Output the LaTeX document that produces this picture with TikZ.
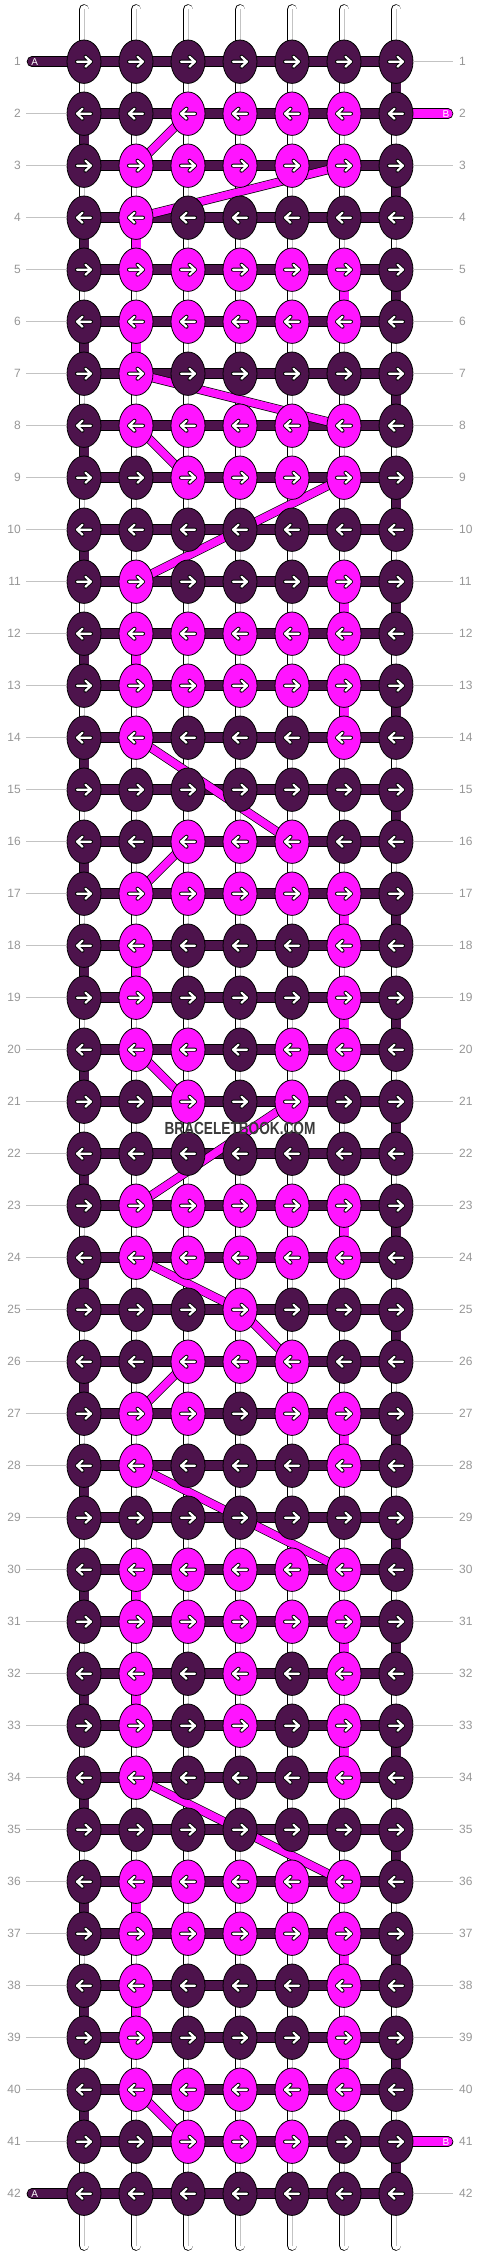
\documentclass[tikz,border=0pt]{standalone}
\usepackage{fontspec}
\setmainfont{Liberation Sans}
\usepackage{graphicx}
\usetikzlibrary{shapes.geometric}
\definecolor{dk}{RGB}{77,19,76}
\definecolor{mg}{RGB}{255,20,255}
\definecolor{labgray}{RGB}{150,150,150}
\definecolor{guidegray}{RGB}{195,195,195}
\definecolor{wmgray}{RGB}{58,58,58}
\pgfdeclarelayer{strings}
\pgfdeclarelayer{links}
\pgfsetlayers{strings,links,main}
\tikzset{
 kn/.style={ellipse, draw=black, line width=0.8pt, minimum width=34pt, minimum height=43.4pt, inner sep=0pt},
 arrout/.style={draw=black, line width=4pt, line cap=round, line join=round},
 arrin/.style={draw=white, line width=2.2pt, line cap=round, line join=round},
 rarr/.pic={\draw[arrout] (-7,0)--(7,0) (1.5,-5)--(7,0)--(1.5,5); \draw[arrin] (-7,0)--(7,0) (1.5,-5)--(7,0)--(1.5,5);},
 larr/.pic={\draw[arrout] (7,0)--(-7,0) (-1.5,-5)--(-7,0)--(-1.5,5); \draw[arrin] (7,0)--(-7,0) (-1.5,-5)--(-7,0)--(-1.5,5);},
 strg/.style={draw=black, line width=0.8pt, double=white, double distance=9pt, line cap=round},
 strc/.style={draw=guidegray, line width=0.9pt},
 dkbar/.style={draw=black, line width=0.8pt, double=dk, double distance=9pt},
 mgbar/.style={draw=black, line width=0.8pt, double=mg, double distance=9pt},
 dgn/.style={draw=black, line width=0.7pt, double=mg, double distance=7.6pt},
 guide/.style={draw=guidegray, line width=1pt},
 lab/.style={text=labgray, font=\fontsize{12}{12}\selectfont, inner sep=0pt},
 endlab/.style={text=white, font=\fontsize{10}{10}\selectfont, inner sep=0pt},
 wm/.style={text=wmgray, font=\fontsize{17.5}{17.5}\selectfont\bfseries, inner sep=0pt},
}
\begin{document}
\begin{tikzpicture}[x=1pt,y=-1pt]
\useasboundingbox (0,0) rectangle (480,2256);
% magenta knots
\foreach \r/\cols in {2/{3,4,5,6},3/{2,...,6},4/{2},5/{2,...,6},6/{2,...,6},7/{2},8/{2,...,6},9/{3,4,5,6},
 11/{2,6},12/{2,...,6},13/{2,...,6},14/{2,6},16/{3,4,5},17/{2,...,6},18/{2,6},19/{2,6},20/{2,3,5,6},21/{3,5},
 23/{2,...,6},24/{2,...,6},25/{4},26/{3,4,5},27/{2,3,5,6},28/{2,6},30/{2,...,6},31/{2,...,6},32/{2,4,6},33/{2,4,6},
 34/{2,6},36/{2,...,6},37/{2,...,6},38/{2,6},39/{2,6},40/{2,...,6},41/{3,4,5}}{
 \foreach \c in \cols {\expandafter\gdef\csname mgk@\r @\c\endcsname{}}}
% knots
\foreach \r in {1,...,42}{
 \foreach \c in {1,...,7}{
  \ifcsname mgk@\r @\c\endcsname\def\kc{mg}\else\def\kc{dk}\fi
  \node[kn, fill=\kc] (k-\r-\c) at ({84+52*(\c-1)},{61.7+52*(\r-1)}) {};
  \ifodd\r\relax \pic at (k-\r-\c) {rarr};\else \pic at (k-\r-\c) {larr};\fi
 }
}
% row numbers
\foreach \r in {1,...,42}{
 \node[lab, anchor=east] (ln-\r) at (21,{61.7+52*(\r-1)}) {\r};
 \node[lab, anchor=west] (rn-\r) at (459,{61.7+52*(\r-1)}) {\r};
}
\foreach \r in {2,...,41}{
 \coordinate (gl-\r) at (26,{61.7+52*(\r-1)});
 \draw[guide] (gl-\r) -- (k-\r-1.west);
}
\foreach \r in {1,3,4,...,40,42}{
 \coordinate (gr-\r) at (453,{61.7+52*(\r-1)});
 \draw[guide] (k-\r-7.east) -- (gr-\r);
}
% thread ends
\coordinate (aT) at (32,61.7);
\coordinate (aB) at (32,{61.7+52*41});
\coordinate (bT) at (448,{61.7+52});
\coordinate (bB) at (448,{61.7+52*40});
\node[endlab] (la1) at (34.7,61.7) {A};
\node[endlab] (la2) at (34.7,{61.7+52*41}) {A};
\node[endlab] (lb1) at (446,{61.7+52}) {B};
\node[endlab] (lb2) at (446,{61.7+52*40}) {B};
% watermark
\node[wm] (wmk) at (240,1128) {\scalebox{0.78}[1]{BRACELETBOOK.COM}};
\begin{pgfonlayer}{strings}
 \foreach \c in {1,...,7}{
  \coordinate (st-\c) at ({84+52*(\c-1)},9.5);
  \coordinate (sb-\c) at ({84+52*(\c-1)},2245.5);
  \draw[strg] (st-\c) -- (sb-\c);
  \draw[strc] (st-\c) -- (sb-\c);
 }
\end{pgfonlayer}
\begin{pgfonlayer}{links}
 \foreach \r in {1,...,42}{
  \foreach \c [evaluate=\c as \cn using int(\c+1)] in {1,...,6}{
   \draw[dkbar] (k-\r-\c.center) -- (k-\r-\cn.center);
  }
 }
 \foreach \r [evaluate=\r as \rn using int(\r+1)] in {1,...,41}{
  \ifodd\r\relax\def\ec{7}\else\def\ec{1}\fi
  \draw[dkbar] (k-\r-\ec.center) -- (k-\rn-\ec.center);
 }
 \foreach \r/\c in {4/2,5/6,6/2,11/6,12/2,13/6,17/6,18/2,19/6,23/6,27/6,30/2,31/6,32/2,33/6,36/2,37/6,38/2,39/6}{
  \pgfmathtruncatemacro\rn{\r+1}
  \draw[mgbar] (k-\r-\c.center) -- (k-\rn-\c.center);
 }
 \foreach \ra/\ca/\rb/\cb in {2/3/3/2,3/6/4/2,7/2/8/6,8/2/9/3,9/6/11/2,14/2/16/5,16/3/17/2,20/2/21/3,21/5/23/2,24/2/25/4,25/4/26/5,26/3/27/2,28/2/30/6,34/2/36/6,40/2/41/3}{
  \draw[dgn] (k-\ra-\ca.center) -- (k-\rb-\cb.center);
 }
 \draw[dkbar, line cap=round] (aT) -- (k-1-1.center);
 \draw[dkbar, line cap=round] (aB) -- (k-42-1.center);
 \draw[mgbar, line cap=round] (bT) -- (k-2-7.center);
 \draw[mgbar, line cap=round] (bB) -- (k-41-7.center);
\end{pgfonlayer}
\end{tikzpicture}
\end{document}
